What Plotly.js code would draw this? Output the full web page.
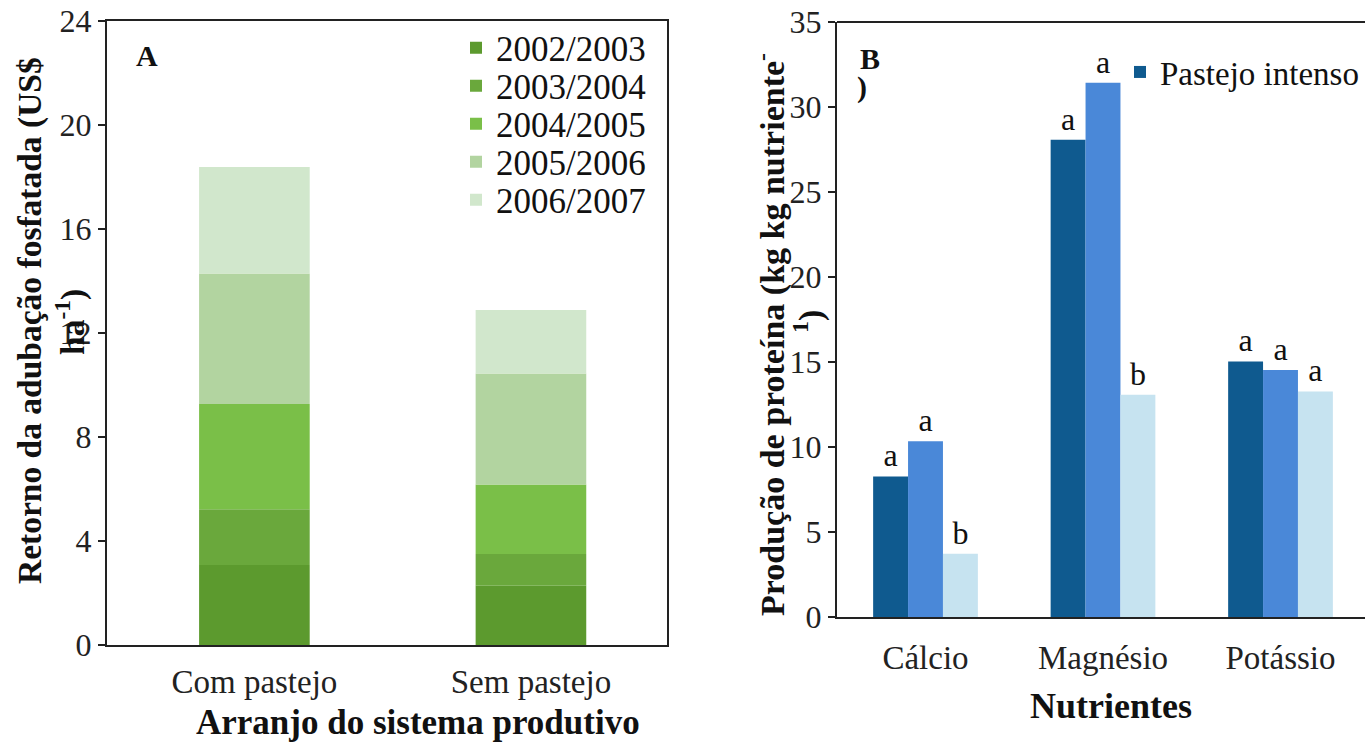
<!DOCTYPE html>
<html>
<head>
<meta charset="utf-8">
<script src="https://cdn.plot.ly/plotly-3.0.1.min.js"></script>
<style>html,body{margin:0;padding:0;background:#fff;}#chart{width:1365px;height:742px;}</style>
</head>
<body>
<div id="chart"></div>
<script>
// Panel A data
const arranjos = ["Com pastejo", "Sem pastejo"];
const safras = ["2002/2003", "2003/2004", "2004/2005", "2005/2006", "2006/2007"];
const retorno2002 = [3.08, 2.28];
const retorno2003 = [2.14, 1.22];
const retorno2004 = [4.05, 2.67];
const retorno2005 = [5.02, 4.27];
const retorno2006 = [4.09, 2.44];
const ticksA = [0, 4, 8, 12, 16, 20, 24];

// Panel B data
const nutrientes = ["Cálcio", "Magnésio", "Potássio"];
const tratamentos = ["Pastejo intenso", "Pastejo moderado", "Sem pastejo"];
const prodIntenso = [8.27, 28.07, 15.03];
const prodModerado = [10.34, 31.42, 14.53];
const prodSem = [3.72, 13.07, 13.27];
const letrasIntenso = ["a", "a", "a"];
const letrasModerado = ["a", "a", "a"];
const letrasSem = ["b", "b", "a"];
const ticksB = [0, 5, 10, 15, 20, 25, 30, 35];

const W = 1365, H = 742;
const px = v => v / W;
const py = v => 1 - v / H;
const serif = "Liberation Serif, Times New Roman, serif";

const greens = ["#5c9a2e", "#6aa83c", "#7abf48", "#b2d4a0", "#d1e7cc"];
const blues = ["#0f5a8f", "#4a88d8", "#c6e3f0"];

const seriesA = [retorno2002, retorno2003, retorno2004, retorno2005, retorno2006];
const legendNames = ["legend", "legend3", "legend4", "legend5", "legend6"];
const legendRows = [48, 86, 124, 162, 200];
const traces = [];
let cum = arranjos.map(() => 0);
seriesA.forEach((vals, i) => {
  traces.push({
    type: "bar", x: arranjos, y: vals, base: cum.slice(),
    name: safras[i], marker: {color: greens[i], line: {width: 0}},
    xaxis: "x", yaxis: "y", offsetgroup: "A", width: 0.4, offset: -0.2,
    legend: legendNames[i], hoverinfo: "skip"
  });
  cum = cum.map((c, j) => c + vals[j]);
});

const seriesB = [prodIntenso, prodModerado, prodSem];
const letras = [letrasIntenso, letrasModerado, letrasSem];
seriesB.forEach((vals, i) => {
  traces.push({
    type: "bar", x: nutrientes, y: vals, name: tratamentos[i],
    marker: {color: blues[i], line: {width: 0}},
    text: letras[i], textposition: "outside", cliponaxis: false,
    textfont: {family: serif, size: 32, color: "#111"},
    xaxis: "x2", yaxis: "y2", legend: "legend2",
    showlegend: i === 0, hoverinfo: "skip"
  });
});

const axisCommon = {
  showgrid: false, zeroline: false, showline: true, linecolor: "#222", linewidth: 2,
  tickfont: {family: serif, size: 32, color: "#222"}, fixedrange: true
};

const layout = {
  width: W, height: H,
  margin: {l: 0, r: 0, t: 0, b: 0},
  paper_bgcolor: "#fff", plot_bgcolor: "rgba(0,0,0,0)",
  barmode: "group", bargap: 0.41, bargroupgap: 0,
  showlegend: true,
  xaxis: Object.assign({}, axisCommon, {
    domain: [px(107), px(667)], anchor: "y", range: [-0.533, 1.492],
    mirror: true, ticks: "", ticklabelstandoff: 6,
    tickfont: {family: serif, size: 33, color: "#222"}
  }),
  yaxis: Object.assign({}, axisCommon, {
    domain: [py(645), py(21)], anchor: "x", range: [0, 24],
    tickvals: ticksA, mirror: true, ticks: "outside", ticklen: 7, tickwidth: 1.5, tickcolor: "#222"
  }),
  xaxis2: Object.assign({}, axisCommon, {
    domain: [px(837), 1], anchor: "y2", range: [-0.4986, 2.476],
    ticks: "", ticklabelstandoff: 10,
    tickfont: {family: serif, size: 33, color: "#222"}
  }),
  yaxis2: Object.assign({}, axisCommon, {
    domain: [py(617), py(22)], anchor: "x2", range: [0, 35],
    tickvals: ticksB, ticks: "outside", ticklen: 7, tickwidth: 1.5, tickcolor: "#222"
  }),
  legend2: {
    x: px(1120), y: py(72), xanchor: "left", yanchor: "middle", orientation: "h",
    bgcolor: "rgba(0,0,0,0)",
    font: {family: serif, size: 33, color: "#111"}, itemwidth: 30
  },
  shapes: [
    {type: "line", xref: "paper", yref: "paper", x0: px(837), x1: 1, y0: py(22), y1: py(22),
     line: {color: "#222", width: 2}}
  ],
  annotations: [
    {text: "<b>A</b>", x: px(147), y: py(55), font: {size: 30}},
    {text: "<b>B</b>", x: px(870), y: py(58), font: {size: 30}},
    {text: "<b>)</b>", x: px(862), y: py(87), font: {size: 30}},
    {text: "<b>Retorno da adubação fosfatada (US$</b>", x: px(30), y: py(321), textangle: -90, font: {size: 33.5}},
    {text: "<b>ha<sup>-1</sup>)</b>", x: px(70), y: py(322), textangle: -90, font: {size: 33.5}},
    {text: "<b>Arranjo do sistema produtivo</b>", x: px(418), y: py(722), font: {size: 35}},
    {text: "<b>Produção de proteína (kg kg nutriente<sup>-</sup></b>", x: px(770), y: py(335), textangle: -90, font: {size: 34}},
    {text: "<b><sup>1</sup>)</b>", x: px(808), y: py(322), textangle: -90, font: {size: 34}},
    {text: "<b>Nutrientes</b>", x: px(1111), y: py(706), font: {size: 36}}
  ].map(a => Object.assign({xref: "paper", yref: "paper", showarrow: false,
    xanchor: "center", yanchor: "middle"}, a,
    {font: {family: serif, size: a.font.size, color: "#111"}}))
};

legendNames.forEach((ln, i) => {
  layout[ln] = {
    x: px(456), y: py(legendRows[i]), xanchor: "left", yanchor: "middle",
    bgcolor: "rgba(0,0,0,0)", font: {family: serif, size: 35, color: "#111"},
    itemwidth: 30
  };
});

Plotly.newPlot("chart", traces, layout, {staticPlot: true, displayModeBar: false});
</script>
</body>
</html>
